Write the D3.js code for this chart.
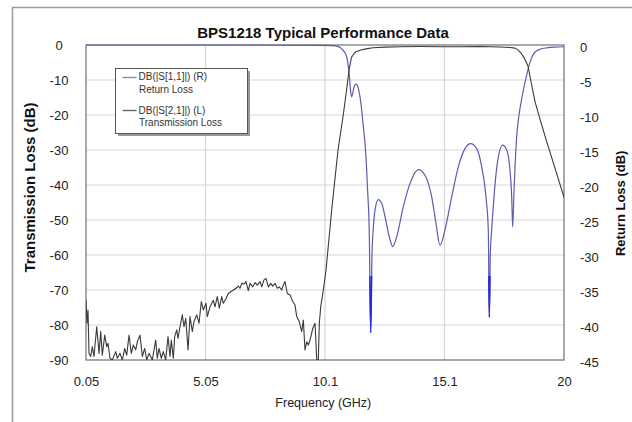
<!DOCTYPE html>
<html>
<head>
<meta charset="utf-8">
<script src="https://cdn.jsdelivr.net/npm/d3@7"></script>
<style>
  html, body { margin: 0; padding: 0; background: #fff; }
  svg { display: block; font-family: "Liberation Sans", Arial, sans-serif; }
</style>
</head>
<body>
<svg id="chart" width="632" height="422"></svg>
<script>
// ---------- data ----------
const titleText = "BPS1218 Typical Performance Data";
const xTickValues = [0.05, 5.0375, 10.025, 15.0125, 20];
const xTickLabels = ["0.05", "5.05", "10.1", "15.1", "20"];
const leftTicks = [0, -10, -20, -30, -40, -50, -60, -70, -80, -90];
const rightTicks = [0, -5, -10, -15, -20, -25, -30, -35, -40, -45];

// Return loss DB(|S[1,1]|), right axis (dB)
const rlFreq = [0.05, 6.895, 9.816, 10.317, 10.580, 10.764, 10.901, 10.972, 11.039, 11.097,
  11.139, 11.181, 11.235, 11.319, 11.415, 11.515, 11.623, 11.724, 11.799, 11.874,
  11.932, 11.986, 12.041, 12.112, 12.249, 12.391, 12.529, 12.709, 12.850, 13.017,
  13.293, 13.572, 13.919, 14.198, 14.478, 14.658, 14.825, 15.033, 15.313, 15.588,
  15.868, 16.106, 16.356, 16.565, 16.744, 16.840, 16.882, 16.924, 16.982, 17.078,
  17.216, 17.441, 17.608, 17.717, 17.817, 17.859, 17.913, 17.955, 18.026, 18.122,
  18.234, 18.330, 18.443, 18.552, 18.664, 18.790, 18.998, 19.290, 19.624, 20.0];
const rlDb = [0, 0, -0.05, -0.1, -0.24, -0.7, -1.4, -2.4, -4.3, -6.7,
  -7.4, -6.9, -6.0, -5.6, -6.2, -8.1, -11.6, -15.4, -20.5, -27,
  -41.1, -30, -26.2, -23.6, -22.1, -22.6, -24.5, -27.4, -28.8, -27.4,
  -23.1, -19.8, -17.8, -18.6, -21.7, -25.5, -28.6, -26.4, -21.7, -17.4,
  -14.8, -14.1, -14.8, -17.4, -21.7, -26.4, -38.9, -30, -26.4, -21.7,
  -16.9, -14.3, -15.0, -16.9, -21.7, -26.0, -21.0, -17.5, -13.0, -10.0,
  -7.7, -6.0, -4.3, -2.8, -1.7, -1.0, -0.6, -0.4, -0.3, -0.25];

// Transmission loss DB(|S[2,1]|), left axis (dB)
const tlFreq = [0.05, 0.092, 0.133, 0.175, 0.246, 0.313, 0.384, 0.497, 0.593, 0.664,
  0.730, 0.831, 0.914, 0.968, 1.052, 1.148, 1.290, 1.356, 1.469, 1.565,
  1.665, 1.749, 1.845, 1.941, 2.024, 2.124, 2.191, 2.304, 2.400, 2.500,
  2.584, 2.680, 2.817, 2.959, 3.026, 3.097, 3.193, 3.276, 3.377, 3.473,
  3.556, 3.610, 3.694, 3.752, 3.836, 3.890, 3.974, 4.070, 4.140, 4.212,
  4.308, 4.391, 4.487, 4.558, 4.671, 4.767, 4.863, 4.946, 5.059, 5.113,
  5.226, 5.364, 5.434, 5.530, 5.614, 5.714, 5.781, 5.894, 5.990, 6.090,
  6.198, 6.311, 6.407, 6.478, 6.549, 6.645, 6.728, 6.824, 6.895, 7.008,
  7.104, 7.200, 7.313, 7.384, 7.480, 7.563, 7.659, 7.759, 7.843, 7.939,
  8.035, 8.118, 8.218, 8.285, 8.356, 8.452, 8.565, 8.677, 8.774, 8.845,
  8.953, 9.053, 9.120, 9.191, 9.262, 9.329, 9.400, 9.513, 9.609, 9.680,
  9.746, 9.788, 9.847, 9.955, 10.068, 10.306, 10.568, 10.777, 10.923, 11.027,
  11.131, 11.277, 11.486, 11.736, 12.028, 12.529, 13.155, 13.990, 14.825, 15.660,
  16.494, 17.329, 17.746, 17.955, 18.080, 18.205, 18.330, 18.497, 18.623, 18.790,
  18.998, 19.278, 19.624, 20.0];
const tlDb = [-72.9, -79.5, -75.7, -88.1, -89.0, -86.2, -89.0, -80.5, -88.1, -81.9,
  -88.6, -82.9, -86.2, -85.2, -89.5, -90, -87.6, -89.5, -88.1, -90,
  -86.7, -88.6, -82.9, -88.1, -85.7, -87.1, -84.8, -82.9, -89.0, -86.7,
  -90, -88.1, -90, -84.3, -89.5, -86.7, -89.5, -87.6, -90, -83.3,
  -89.0, -84.3, -89.5, -83.3, -81.4, -83.8, -80.5, -77.1, -80.5, -78.1,
  -87.1, -77.6, -81.9, -79.0, -77.1, -79.5, -73.3, -75.7, -73.8, -77.6,
  -74.8, -72.9, -74.8, -71.9, -75.2, -71.9, -73.8, -72.4, -71.0, -70.5,
  -70.0, -69.5, -68.9, -69.5, -68.1, -68.3, -67.6, -70.2, -68.1, -69.1,
  -67.9, -68.6, -67.6, -69.1, -67.1, -66.7, -69.1, -68.1, -68.9, -68.1,
  -69.5, -69.1, -70.0, -68.6, -67.6, -71.0, -71.4, -73.3, -74.3, -77.6,
  -79.1, -81.9, -78.6, -87.1, -84.8, -85.7, -84.3, -81.0, -79.5, -90,
  -90, -79.5, -74.8, -70.0, -64.3, -47, -30, -20.5, -13, -7.2,
  -3.5, -2.1, -1.5, -1.1, -0.8, -0.6, -0.5, -0.45, -0.5, -0.5,
  -0.45, -0.55, -0.7, -0.9, -1.4, -2.3, -3.6, -6.0, -10.5, -16.2,
  -21.2, -27.6, -35.2, -43.5];

const legendItems = [
  { line1: "DB(|S[1,1]|) (R)", line2: "Return Loss", color: "#8585c8" },
  { line1: "DB(|S[2,1]|) (L)", line2: "Transmission Loss", color: "#666666" }
];

// ---------- layout ----------
const plot = { left: 86, right: 564, top: 45, bottom: 360 };
const svg = d3.select("#chart");

const x = d3.scaleLinear().domain([0.05, 20]).range([plot.left, plot.right]);
const yL = d3.scaleLinear().domain([-90, 0]).range([plot.bottom, plot.top]);
const yR = d3.scaleLinear().domain([-45, 0]).range([plot.bottom, plot.top]);

// outer frame
svg.append("rect").attr("x", 12.5).attr("y", 7.5).attr("width", 700).attr("height", 500)
  .attr("fill", "none").attr("stroke", "#9a9a9a").attr("stroke-width", 1.5);

// grid
const grid = svg.append("g").attr("stroke", "#d6d6d6").attr("stroke-width", 1.2);
grid.selectAll("line.h").data(leftTicks.slice(1, -1)).join("line")
  .attr("x1", plot.left).attr("x2", plot.right)
  .attr("y1", d => yL(d)).attr("y2", d => yL(d));
grid.selectAll("line.v").data(xTickValues.slice(1, -1)).join("line")
  .attr("y1", plot.top).attr("y2", plot.bottom)
  .attr("x1", d => x(d)).attr("x2", d => x(d));

// plot border
svg.append("rect").attr("x", plot.left).attr("y", plot.top)
  .attr("width", plot.right - plot.left).attr("height", plot.bottom - plot.top)
  .attr("fill", "none").attr("stroke", "#707070").attr("stroke-width", 1.2);

// clip
const defs = svg.append("defs");
defs.append("clipPath").attr("id", "plotClip").append("rect")
  .attr("x", plot.left).attr("y", plot.top - 1)
  .attr("width", plot.right - plot.left).attr("height", plot.bottom - plot.top + 1);
defs.append("clipPath").attr("id", "deepClip").append("rect")
  .attr("x", plot.left).attr("y", yR(-33))
  .attr("width", plot.right - plot.left).attr("height", plot.bottom - yR(-33));

const rlData = rlFreq.map((f, i) => [f, rlDb[i]]);
const tlData = tlFreq.map((f, i) => [f, tlDb[i]]);

const rlLine = d3.line().x(d => x(d[0])).y(d => yR(d[1])).curve(d3.curveMonotoneX);
const tlLine = d3.line().x(d => x(d[0])).y(d => yL(d[1]));

const lines = svg.append("g").attr("clip-path", "url(#plotClip)");
lines.append("path").datum(rlData).attr("d", rlLine)
  .attr("fill", "none").attr("stroke", "#5c5cae").attr("stroke-width", 1.2);
lines.append("path").datum(rlData).attr("d", rlLine)
  .attr("clip-path", "url(#deepClip)")
  .attr("fill", "none").attr("stroke", "#2626e6").attr("stroke-width", 1.4);
lines.append("path").datum(tlData).attr("d", tlLine)
  .attr("fill", "none").attr("stroke", "#3a3a3a").attr("stroke-width", 1.1)
  .attr("stroke-linejoin", "round");

// axes (hyphen-minus labels as in the reference)
const fmt = d => String(d);
const axL = svg.append("g").attr("transform", `translate(${plot.left},0)`)
  .call(d3.axisLeft(yL).tickValues(leftTicks).tickSize(0).tickFormat(fmt));
axL.select(".domain").remove();
axL.selectAll("text").attr("x", -27).attr("text-anchor", "middle").attr("dy", "0.38em");

const axR = svg.append("g").attr("transform", `translate(${plot.right},0)`)
  .call(d3.axisRight(yR).tickValues(rightTicks).tickSize(0).tickPadding(16).tickFormat(fmt));
axR.select(".domain").remove();
axR.selectAll("text").attr("dy", "0.48em");

const axB = svg.append("g").attr("transform", `translate(0,${plot.bottom})`)
  .call(d3.axisBottom(x).tickValues(xTickValues).tickSize(0).tickPadding(17)
    .tickFormat((d, i) => xTickLabels[i]));
axB.select(".domain").remove();

svg.selectAll(".tick text").attr("font-size", 13).attr("fill", "#222")
  .attr("font-family", "Liberation Sans, Arial, sans-serif");

// titles
svg.append("text").attr("x", 323).attr("y", 37.5).attr("text-anchor", "middle")
  .attr("font-size", 15).attr("font-weight", "bold").attr("fill", "#111").text(titleText);
svg.append("text").attr("transform", "translate(35,187.5) rotate(-90)")
  .attr("text-anchor", "middle").attr("font-size", 15).attr("font-weight", "bold")
  .attr("fill", "#111").text("Transmission Loss (dB)");
svg.append("text").attr("transform", "translate(625,203.3) rotate(-90)")
  .attr("text-anchor", "middle").attr("font-size", 13).attr("font-weight", "bold")
  .attr("fill", "#111").text("Return Loss (dB)");
svg.append("text").attr("x", 323.3).attr("y", 407).attr("text-anchor", "middle")
  .attr("font-size", 12.5).attr("fill", "#222").text("Frequency (GHz)");

// legend
const lg = svg.append("g");
lg.append("rect").attr("x", 118).attr("y", 71).attr("width", 132).attr("height", 65).attr("fill", "#9a9a9a");
lg.append("rect").attr("x", 115.5).attr("y", 68.5).attr("width", 132).attr("height", 65)
  .attr("fill", "#fff").attr("stroke", "#555").attr("stroke-width", 1);
const lineYs = [77.5, 110.5];
const text1Ys = [80, 114];
const text2Ys = [93, 126];
legendItems.forEach((it, i) => {
  lg.append("line").attr("x1", 122.5).attr("x2", 136.5).attr("y1", lineYs[i]).attr("y2", lineYs[i])
    .attr("stroke", it.color).attr("stroke-width", 1.4);
  lg.append("text").attr("x", 138.5).attr("y", text1Ys[i]).attr("font-size", 10)
    .attr("fill", "#333").text(it.line1);
  lg.append("text").attr("x", 139).attr("y", text2Ys[i]).attr("font-size", 10)
    .attr("fill", "#333").text(it.line2);
});
</script>
</body>
</html>
